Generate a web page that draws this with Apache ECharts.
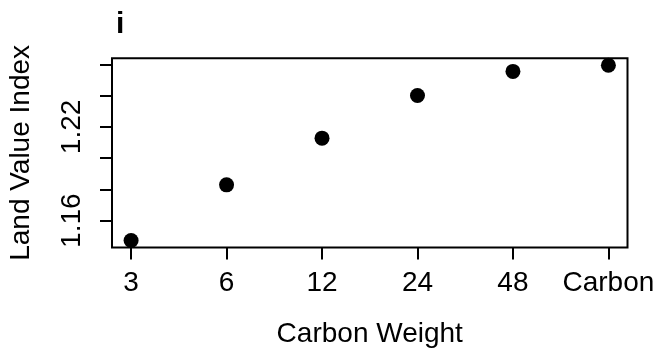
<!DOCTYPE html>
<html>
<head>
<meta charset="utf-8">
<script src="https://cdn.jsdelivr.net/npm/echarts@6/dist/echarts.min.js"></script>
<style>
    html, body { margin: 0; padding: 0; background: #fff; }
    #main { width: 661px; height: 349px; }
</style>
</head>
<body>
<div id="main"></div>
<script>
// data
var categories = ['3', '6', '12', '24', '48', 'Carbon'];
var landValue = [1.1473, 1.1829, 1.2128, 1.2401, 1.2555, 1.2594];
var yTicks = [1.16, 1.18, 1.20, 1.22, 1.24, 1.26];
var yLabels = [1.16, 1.22];

function init() {
    var myChart = echarts.init(document.getElementById('main'));
    var font = 'Liberation Sans';

    // x positions 1..n like R's plot of a factor
    var xPos = categories.map(function (c, i) { return i + 1; });
    var points = landValue.map(function (v, i) { return [xPos[i], v]; });

    // R pads the data range by 4% on each side
    var xPad = (xPos.length - 1) * 0.04;
    var yLo = Math.min.apply(null, landValue);
    var yHi = Math.max.apply(null, landValue);
    var yPad = (yHi - yLo) * 0.04;

    var option = {
        animation: false,
        title: {
            text: 'i',
            left: 111,
            top: 5,
            textStyle: {fontFamily: font, fontSize: 30, fontWeight: 'bold', color: '#000'}
        },
        grid: {
            left: 112,
            right: 33.5,
            top: 58.3,
            bottom: 101.5,
            show: true,
            borderColor: '#000',
            borderWidth: 2,
            outerBoundsMode: 'none'
        },
        xAxis: {
            type: 'value',
            min: 1 - xPad,
            max: xPos.length + xPad,
            name: 'Carbon Weight',
            nameLocation: 'middle',
            nameGap: 73,
            nameTextStyle: {fontFamily: font, fontSize: 28, color: '#000'},
            axisLine: {show: false},
            splitLine: {show: false},
            axisTick: {
                show: true,
                length: 12,
                customValues: xPos,
                lineStyle: {color: '#000', width: 2}
            },
            axisLabel: {
                customValues: xPos,
                margin: 22,
                fontFamily: font,
                fontSize: 28,
                color: '#000',
                formatter: function (v) { return categories[Math.round(v) - 1]; }
            }
        },
        yAxis: {
            type: 'value',
            min: yLo - yPad,
            max: yHi + yPad,
            name: 'Land Value Index',
            nameLocation: 'middle',
            nameRotate: 90,
            nameGap: 77,
            nameTextStyle: {fontFamily: font, fontSize: 28, color: '#000'},
            axisLine: {show: false},
            splitLine: {show: false},
            axisTick: {
                show: true,
                length: 12,
                customValues: yTicks,
                lineStyle: {color: '#000', width: 2}
            },
            axisLabel: {
                customValues: yLabels,
                rotate: 90,
                margin: 26,
                fontFamily: font,
                fontSize: 28,
                color: '#000',
                formatter: function (v) { return v.toFixed(2); }
            }
        },
        series: [{
            type: 'scatter',
            data: points,
            symbol: 'circle',
            symbolSize: 15,
            itemStyle: {color: '#000', opacity: 1}
        }]
    };
    myChart.setOption(option);
}

init();
</script>
</body>
</html>
